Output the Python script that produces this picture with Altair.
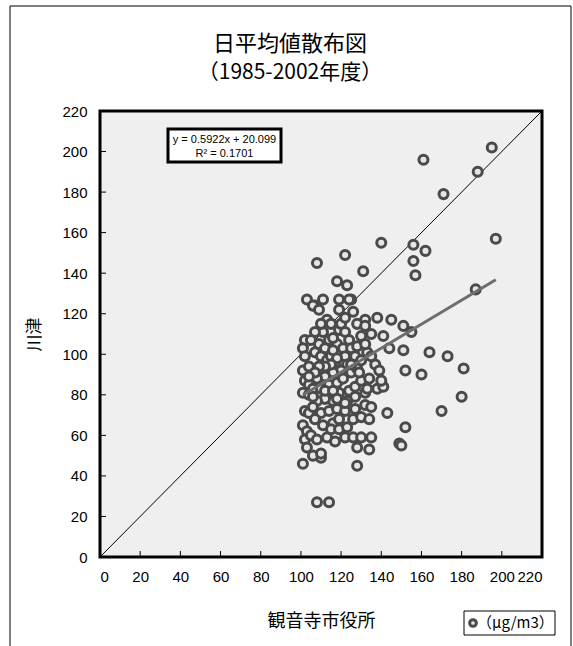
import altair as alt
import pandas as pd

# ---------------- data ----------------
kannonji = [
    195, 161, 188, 171, 197, 140, 156, 162, 156, 157, 108, 122, 131, 187, 123, 118, 125, 103, 107, 111,
    138, 132, 145, 151, 155, 141, 164, 173, 151, 144, 152, 160, 181, 180, 138, 141, 170, 143, 152, 149,
    135, 128, 108, 114, 101, 110, 150,
    102, 101, 102, 101, 104, 102, 104, 101, 104, 102, 104, 101, 103, 102, 103, 106, 109, 113, 115, 111,
    114, 109, 107, 110, 113, 115, 118, 119, 120, 122, 124, 121, 117, 122, 125, 127, 123, 120, 116, 112,
    108, 106, 110, 114, 118, 121, 125, 128, 130, 133, 135, 130, 135, 128, 132, 119, 124, 127, 130, 134,
    132, 127, 123, 116, 112, 108, 106, 110, 114, 118, 122, 127, 132, 135, 107, 111, 116, 119, 105, 108,
    113, 117, 122, 126, 130, 128, 134, 106, 110, 115, 119, 123, 126, 130, 134, 112, 116, 118, 125, 129,
    137, 139, 140, 133, 115, 112, 109, 107, 104, 106, 118, 122, 112, 116, 110, 107, 105, 116, 122, 126,
    119, 128, 132, 124, 119,
]
kawatsu = [
    202, 196, 190, 179, 157, 155, 154, 151, 146, 139, 145, 149, 141, 132, 134, 136, 127, 127, 124, 127,
    118, 117, 117, 114, 111, 109, 101, 99, 102, 103, 92, 90, 93, 79, 83, 84, 72, 71, 64, 56,
    59, 45, 27, 27, 46, 49, 55,
    107, 103, 99, 92, 94, 87, 85, 81, 80, 72, 71, 65, 62, 58, 54, 124, 122, 117, 115, 111,
    107, 105, 101, 99, 97, 99, 105, 112, 115, 111, 107, 103, 96, 99, 103, 99, 95, 92, 91, 89,
    88, 83, 83, 85, 86, 88, 91, 93, 97, 101, 99, 109, 110, 104, 105, 81, 82, 84, 87, 88,
    81, 79, 77, 77, 78, 77, 74, 71, 72, 73, 72, 73, 75, 74, 68, 65, 66, 68, 60, 58,
    59, 57, 59, 59, 59, 54, 53, 50, 51, 63, 63, 64, 68, 69, 68, 103, 102, 98, 95, 91,
    95, 92, 87, 83, 95, 94, 94, 91, 89, 79, 78, 76, 82, 82, 115, 111, 107, 108, 118, 121,
    122, 115, 114, 127, 127,
]
slope = 0.5922
intercept = 20.099
x_ticks = [0, 20, 40, 60, 80, 100, 120, 140, 160, 180, 200, 220]
y_ticks = [0, 20, 40, 60, 80, 100, 120, 140, 160, 180, 200, 220]
diag = [0, 220]

title_lines = ["日平均値散布図", "（1985-2002年度）"]
x_title = "観音寺市役所"
y_title = "川津"
eq_lines = ["y = 0.5922x + 20.099", "R² = 0.1701"]
legend_label = "（μg/m3）"

# ---------------- tables ----------------
n = min(len(kannonji), len(kawatsu))
pts = pd.DataFrame({"x": kannonji[:n], "y": kawatsu[:n]})
xmin, xmax = min(kannonji[:n]), max(kannonji[:n])
trend = pd.DataFrame({"x": [xmin, xmax], "y": [slope * xmin + intercept, slope * xmax + intercept]})
diag_df = pd.DataFrame({"x": diag, "y": diag})
xt = pd.DataFrame({"t": x_ticks})
yt = pd.DataFrame({"t": y_ticks})

W, H = 442, 446
FONT = "Noto Sans CJK JP"
NUMFONT = "Liberation Sans"

xs = alt.Scale(domain=[0, 220], nice=False, zero=True)
ys = alt.Scale(domain=[0, 220], nice=False, zero=True)

xaxis = alt.Axis(values=x_ticks, title=x_title, domain=False, ticks=False, grid=False,
                 labelFont=NUMFONT, labelFontSize=15, labelColor="black", labelPadding=12,
                 titleFont=FONT, titleFontSize=18, titleFontWeight="normal", titleColor="black",
                 titlePadding=28)
yaxis = alt.Axis(values=y_ticks, title=y_title, domain=False, ticks=False, grid=False,
                 labelFont=NUMFONT, labelFontSize=15, labelColor="black", labelPadding=13,
                 titleFont=FONT, titleFontSize=17, titleFontWeight="normal", titleColor="black",
                 titlePadding=18)

base_points = alt.Chart(pts).mark_circle(
    size=82, fill="#e6e6e6", stroke="#4a4a4a", strokeWidth=3, opacity=1
).encode(
    x=alt.X("x:Q", scale=xs, axis=xaxis),
    y=alt.Y("y:Q", scale=ys, axis=yaxis),
)

diag_line = alt.Chart(diag_df).mark_line(color="black", strokeWidth=1).encode(
    x=alt.X("x:Q", scale=xs), y=alt.Y("y:Q", scale=ys)
)

trend_line = alt.Chart(trend).mark_line(color="#6e6e6e", strokeWidth=3).encode(
    x=alt.X("x:Q", scale=xs), y=alt.Y("y:Q", scale=ys)
)

x_tick_marks = alt.Chart(xt).mark_rule(color="black", strokeWidth=1).encode(
    x=alt.X("t:Q", scale=xs), y=alt.value(H), y2=alt.value(H - 6)
)
y_tick_marks = alt.Chart(yt).mark_rule(color="black", strokeWidth=1).encode(
    y=alt.Y("t:Q", scale=ys), x=alt.value(0), x2=alt.value(6)
)

one = pd.DataFrame({"k": [0]})

# equation box
eq_box = alt.Chart(one).mark_rect(fill="white", stroke="black", strokeWidth=3).encode(
    x=alt.value(68), x2=alt.value(181), y=alt.value(18), y2=alt.value(51)
)
eq_text1 = alt.Chart(one).mark_text(font=NUMFONT, fontSize=11, color="black").encode(
    x=alt.value(124.5), y=alt.value(28.5), text=alt.value(eq_lines[0])
)
eq_text2 = alt.Chart(one).mark_text(font=NUMFONT, fontSize=11, color="black").encode(
    x=alt.value(124.5), y=alt.value(42.5), text=alt.value(eq_lines[1])
)

# titles
t1 = alt.Chart(one).mark_text(font=FONT, fontSize=22, color="black").encode(
    x=alt.value(190), y=alt.value(-67), text=alt.value(title_lines[0])
)
t2 = alt.Chart(one).mark_text(font=FONT, fontSize=21, color="black").encode(
    x=alt.value(190), y=alt.value(-38), text=alt.value(title_lines[1])
)

# outer frame
frame = alt.Chart(one).mark_rect(fill=None, stroke="black", strokeWidth=1, clip=False).encode(
    x=alt.value(-90), x2=alt.value(471), y=alt.value(-105), y2=alt.value(560)
)

# legend
leg_box = alt.Chart(one).mark_rect(fill="white", stroke="black", strokeWidth=1).encode(
    x=alt.value(364), x2=alt.value(455), y=alt.value(500), y2=alt.value(524)
)
leg_marker = alt.Chart(one).mark_circle(size=45, fill="#e6e6e6", stroke="#4a4a4a", strokeWidth=3, opacity=1).encode(
    x=alt.value(373), y=alt.value(512)
)
leg_text = alt.Chart(one).mark_text(font=FONT, fontSize=15, color="black", align="left").encode(
    x=alt.value(377), y=alt.value(512), text=alt.value(legend_label)
)

chart = alt.layer(
    frame, diag_line, base_points, trend_line, x_tick_marks, y_tick_marks,
    eq_box, eq_text1, eq_text2, t1, t2, leg_box, leg_marker, leg_text
).properties(
    width=W, height=H,
    padding={"left": 100, "top": 111, "right": 31, "bottom": 89},
    autosize=alt.AutoSizeParams(type="none"),
    background="white",
).configure_view(
    stroke="black", strokeWidth=3, fill="#efefef"
)

chart.save("out.html", embed_options={"renderer": "svg", "actions": False})
